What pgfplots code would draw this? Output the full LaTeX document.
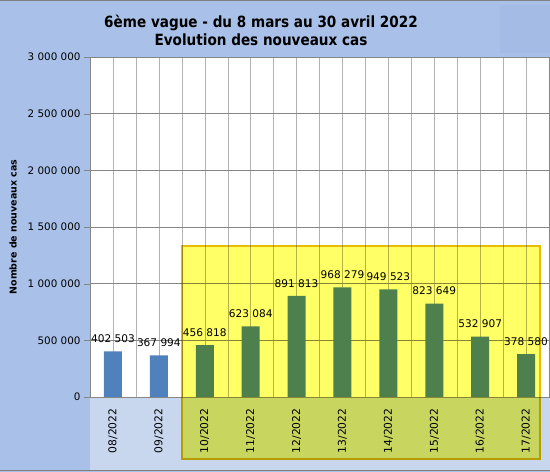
\documentclass[border=0pt]{standalone}
\usepackage{pgfplots}
\pgfplotsset{compat=1.18}
\usepackage{fontspec}
\setmainfont{DejaVu Sans}
\newfontfamily\titlefont[FakeStretch=0.88]{DejaVu Sans}
\definecolor{bgblue}{RGB}{169,193,232}
\definecolor{lowblue}{RGB}{200,214,238}
\definecolor{boxblue}{RGB}{163,187,229}
\definecolor{barblue}{RGB}{79,129,189}
\definecolor{bargreen}{RGB}{78,128,78}
\definecolor{hiyellow}{RGB}{255,255,102}
\definecolor{hiborder}{RGB}{232,188,0}
\definecolor{ygrid}{RGB}{134,134,134}
\definecolor{xgrid}{RGB}{178,178,178}
\begin{document}
\begin{tikzpicture}[x=1bp,y=1bp]
\useasboundingbox (0,0) rectangle (550,472);
\fill[bgblue] (0,0) rectangle (550,472);
\fill[lowblue] (90,2) rectangle (550,75);
\fill[boxblue] (500,419) rectangle (550,467);
\draw[gray, line width=1.5bp] (0,471.25) -- (550,471.25);
\draw[gray, line width=1.5bp] (0,1.5) -- (550,1.5);
\node[font=\titlefont\bfseries\fontsize{15.5}{18}\selectfont, align=center] at (261,442) {6ème vague - du 8 mars au 30 avril 2022\\Evolution des nouveaux cas};
\node[rotate=90, font=\bfseries\fontsize{9.5}{11}\selectfont] at (13,245) {Nombre de nouveaux cas};
\begin{axis}[
  at={(90bp,75bp)}, anchor=south west, scale only axis,
  width=459bp, height=340bp,
  xmin=-0.5, xmax=9.5, ymin=0, ymax=3000000,
  clip=false,
  axis background/.style={fill=white},
  axis line style={color=ygrid},
  xtick={0,...,9},
  xticklabels={08/2022,09/2022,10/2022,11/2022,12/2022,13/2022,14/2022,15/2022,16/2022,17/2022},
  minor xtick={-0.5,0.5,...,9.5},
  xmajorgrids, xminorgrids, ymajorgrids,
  x grid style={color=xgrid},
  minor x grid style={color=xgrid},
  y grid style={color=ygrid},
  xtick style={draw=none},
  minor tick length=0pt,
  ytick={0,500000,1000000,1500000,2000000,2500000,3000000},
  yticklabels={0,500~000,1~000~000,1~500~000,2~000~000,2~500~000,3~000~000},
  tick align=outside,
  major tick length=6bp,
  ytick style={color=ygrid},
  yticklabel style={font=\fontsize{10.4}{12}\selectfont},
  xticklabel style={font=\fontsize{10.8}{12}\selectfont, rotate=90, anchor=east, xshift=-2bp},
  scaled y ticks=false,
  nodes near coords style={font=\fontsize{10.6}{12}\selectfont, yshift=5bp, text=black},
]
\fill[hiyellow, draw=hiborder, line width=1.5bp, blend mode=multiply] (axis cs:1.504,-547000) rectangle (axis cs:9.304,1332000);
\addplot[ybar, bar width=18bp, bar shift=0pt, fill=barblue, draw=none,
  nodes near coords, point meta=explicit symbolic]
  coordinates {(0,402503)[402~503] (1,367994)[367~994]};
\addplot[ybar, bar width=18bp, bar shift=0pt, fill=bargreen, draw=none,
  nodes near coords, point meta=explicit symbolic]
  coordinates {(2,456818)[456~818] (3,623084)[623~084] (4,891813)[891~813]
   (5,968279)[968~279] (6,949523)[949~523] (7,823649)[823~649]
   (8,532907)[532~907] (9,378580)[378~580]};
\end{axis}
\end{tikzpicture}
\end{document}
